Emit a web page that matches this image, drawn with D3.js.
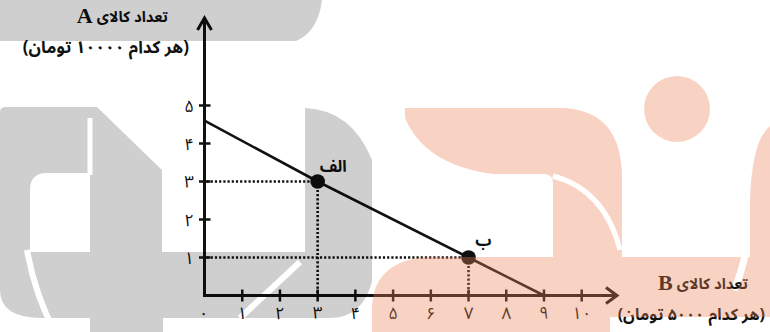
<!DOCTYPE html>
<html><head><meta charset="utf-8">
<script src="https://cdn.jsdelivr.net/npm/d3@7/dist/d3.min.js"></script>
<style>
html,body{margin:0;padding:0;background:#fff;}
svg{display:block;}
.fa{font-family:"Noto Sans Arabic","Noto Naskh Arabic","DejaVu Sans",sans-serif;}
</style></head>
<body>
<svg id="chart" width="770" height="332"></svg>
<script>
// ---------- data ----------
const xTicks = [0, 1, 2, 3, 4, 5, 6, 7, 8, 9, 10];
const yTicks = [1, 2, 3, 4, 5];
const budgetB = [0, 3, 7, 9];          // quantity of good B
const budgetA = [4.6, 3, 1, 0];        // quantity of good A
const pointNames = ["الف", "ب"];
const pointB = [3, 7];
const pointA = [3, 1];
const yTitle = "تعداد کالای";
const yLetter = "A";
const yUnit = "(هر کدام ۱۰۰۰۰ تومان)";
const xTitle = "تعداد کالای";
const xLetter = "B";
const xUnit = "(هر کدام ۵۰۰۰ تومان)";

const faDigits = "۰۱۲۳۴۵۶۷۸۹";
const toFa = n => String(n).replace(/\d/g, d => faDigits[d]);

const svg = d3.select("#chart");
const W = 770, H = 332;
const x = d3.scaleLinear().domain([0, 10]).range([204.5, 581.7]);
const y = d3.scaleLinear().domain([0, 5]).range([295.5, 105.5]);
const ink = "#111";

// ---------- axes ----------
const g = svg.append("g");
const x0 = x(0), y0 = y(0);
const xEnd = 617, yEnd = 18;
g.append("line").attr("x1", x0).attr("y1", y0).attr("x2", xEnd - 1).attr("y2", y0)
  .attr("stroke", ink).attr("stroke-width", 3);
g.append("line").attr("x1", x0).attr("y1", y0 + 1.5).attr("x2", x0).attr("y2", yEnd + 1)
  .attr("stroke", ink).attr("stroke-width", 3);
// arrow heads
g.append("path").attr("d", `M${xEnd-11},${y0-8}L${xEnd},${y0}L${xEnd-11},${y0+8}`)
  .attr("fill", "none").attr("stroke", ink).attr("stroke-width", 3).attr("stroke-linejoin", "miter");
g.append("path").attr("d", `M${x0-7},${yEnd+12}L${x0},${yEnd}L${x0+7},${yEnd+12}`)
  .attr("fill", "none").attr("stroke", ink).attr("stroke-width", 3);

// ticks (crossing the axis)
g.selectAll(".xt").data(xTicks.filter(d => d > 0)).join("line")
  .attr("x1", d => x(d)).attr("x2", d => x(d)).attr("y1", y0 - 6).attr("y2", y0 + 6)
  .attr("stroke", ink).attr("stroke-width", 2.5);
g.selectAll(".yt").data(yTicks).join("line")
  .attr("y1", d => y(d)).attr("y2", d => y(d)).attr("x1", x0 - 5.5).attr("x2", x0 + 6)
  .attr("stroke", ink).attr("stroke-width", 2.5);

// tick labels
g.selectAll(".xl").data(xTicks).join("text").attr("class", "fa")
  .attr("x", d => x(d) + (d === 0 ? -1 : 0)).attr("y", 319)
  .attr("text-anchor", "middle").attr("font-size", 17).attr("fill", ink)
  .text(d => toFa(d));
g.selectAll(".yl").data(yTicks).join("text").attr("class", "fa")
  .attr("x", 194).attr("y", d => y(d) + 6)
  .attr("text-anchor", "end").attr("font-size", 17).attr("fill", ink)
  .text(d => toFa(d));

// ---------- guides ----------
const pts = pointB.map((b, i) => ({b, a: pointA[i], name: pointNames[i]}));
pts.forEach(p => {
  g.append("line").attr("x1", x0 + 2).attr("x2", x(p.b)).attr("y1", y(p.a)).attr("y2", y(p.a))
    .attr("stroke", ink).attr("stroke-width", 2.6).attr("stroke-dasharray", "2.2,2");
  g.append("line").attr("x1", x(p.b)).attr("x2", x(p.b)).attr("y1", y(p.a)).attr("y2", y0 - 2)
    .attr("stroke", ink).attr("stroke-width", 2.6).attr("stroke-dasharray", "2.2,2");
});

// ---------- budget line ----------
const lineData = budgetB.map((b, i) => [b, budgetA[i]]);
g.append("path").datum(lineData)
  .attr("d", d3.line().x(d => x(d[0])).y(d => y(d[1])))
  .attr("fill", "none").attr("stroke", ink).attr("stroke-width", 2.6);

g.selectAll(".pt").data(pts).join("circle")
  .attr("cx", d => x(d.b)).attr("cy", d => y(d.a)).attr("r", 7.3).attr("fill", ink);
g.selectAll(".pl").data(pts).join("text").attr("class", "fa")
  .attr("x", (d, i) => x(d.b) + (i === 0 ? 29 : 23)).attr("y", (d, i) => y(d.a) + (i === 0 ? -10 : -12))
  .attr("text-anchor", "end").attr("font-size", 16).attr("font-weight", "bold").attr("fill", ink)
  .text(d => d.name);

// ---------- axis titles ----------
function title(rightX, baseY, fa, letter, unit, unitRight, unitBase, unitSize) {
  const t = g.append("text").attr("class", "fa").attr("x", rightX).attr("y", baseY)
    .attr("text-anchor", "end").attr("font-size", 15).attr("font-weight", "bold").attr("fill", ink)
    .text(fa);
  const w = t.node().getComputedTextLength();
  g.append("text").attr("x", rightX - w - 4).attr("y", baseY + 1)
    .attr("text-anchor", "end").attr("font-family", "'Liberation Serif',serif")
    .attr("font-size", 22).attr("font-weight", "bold").attr("fill", ink).text(letter);
  g.append("text").attr("class", "fa").attr("x", unitRight).attr("y", unitBase)
    .attr("text-anchor", "end").attr("font-size", unitSize).attr("font-weight", "bold").attr("fill", ink)
    .text(unit);
}
title(168, 22, yTitle, yLetter, yUnit, 189, 53, 17);
title(748, 289, xTitle, xLetter, xUnit, 765, 320, 16);

// ---------- watermark (decoration, drawn over the chart) ----------
const defs = svg.append("defs");
const mG = defs.append("mask").attr("id", "mg");
mG.append("rect").attr("width", W).attr("height", H).attr("fill", "#fff");
[["M27,250 Q35,295 55,332", 6], ["M90,118 V175", 5], ["M300,262 Q270,290 240,318", 6]]
  .forEach(([d, w]) => mG.append("path").attr("d", d).attr("stroke", "#000").attr("stroke-width", w).attr("fill", "none"));
const gray = svg.append("g").attr("mask", "url(#mg)").attr("opacity", 0.185).attr("fill", "#000");
gray.append("path").attr("d", "M0,0 H322 Q318,32 296,41 H0 Z");
gray.append("path").attr("fill-rule", "evenodd").attr("d",
  "M0,112 Q0,107 6,107 H97 L162,170 V252 H305 V108 Q352,110 372,160 V282 Q362,318 330,318 H163 V332 H90 V318 H42 Q0,318 0,290 Z " +
  "M30,252 V190 Q30,173 47,173 H90 V252 Z");

const mS = defs.append("mask").attr("id", "ms");
mS.append("rect").attr("width", W).attr("height", H).attr("fill", "#fff");
[["M553,176 Q605,190 620,250", 5], ["M746,250 Q742,272 734,290", 7]]
  .forEach(([d, w]) => mS.append("path").attr("d", d).attr("stroke", "#000").attr("stroke-width", w).attr("fill", "none"));
const sal = svg.append("g").attr("mask", "url(#ms)").attr("opacity", 0.35).attr("fill", "#ec8456");
sal.append("path").attr("d",
  "M405,108 H565 Q622,112 622,178 V257 H770 V317 H610 V332 H372 V305 Q375,262 425,257 H553 V183 Q553,175 545,174 H493 Q425,165 405,118 Z");
sal.append("circle").attr("cx", 677).attr("cy", 109).attr("r", 33);
sal.append("path").attr("d", "M770,126 Q752,140 750,200 V257 H770 Z");
</script>
</body></html>
